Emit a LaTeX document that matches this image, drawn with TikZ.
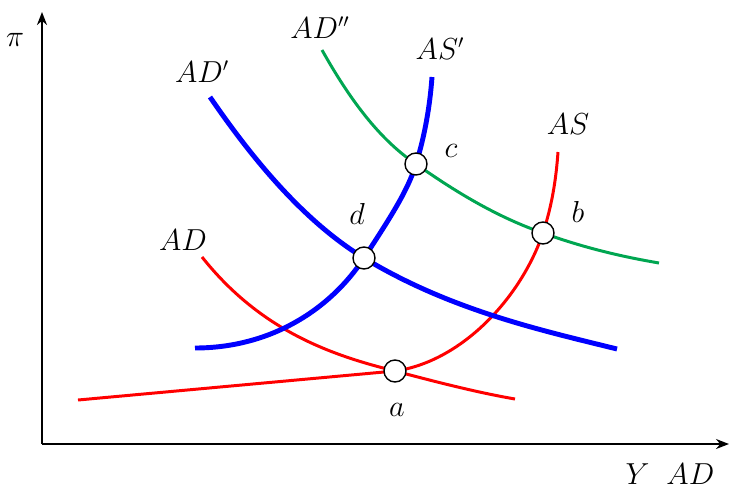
\documentclass[tikz,border=0pt]{standalone}
\usepackage{tikz}
\usetikzlibrary{arrows.meta}

\definecolor{curvered}{RGB}{255,0,0}
\definecolor{curveblue}{RGB}{0,0,255}
\definecolor{curvegreen}{RGB}{0,166,81}

\begin{document}
\begin{tikzpicture}[x=0.02cm, y=-0.02cm,
    axis/.style={-{Stealth[length=2.6mm, width=2mm]}, line width=1.1pt},
    redline/.style={draw=curvered, line width=1.7pt},
    blueline/.style={draw=curveblue, line width=2.8pt},
    greenline/.style={draw=curvegreen, line width=1.7pt},
    pt/.style={circle, draw, fill=white, line width=0.8pt,
        minimum size=0.44cm, inner sep=0pt},
    lbl/.style={font=\fontsize{16}{18}\selectfont, inner sep=1pt}
]
    \useasboundingbox (0,0) rectangle (731,491);

    % axes
    \coordinate (o) at (42,444);
    \coordinate (ytop) at (42,12);
    \coordinate (xend) at (729,444);
    \draw[axis] (o) -- (ytop);
    \draw[axis] (o) -- (xend);
    \node[lbl] (pi) at (15,40) {$\pi$};
    \node[lbl] (ylab) at (670,474) {$Y\ \ AD$};

    % equilibrium points
    \coordinate (a) at (395,371);
    \coordinate (b) at (543,233);
    \coordinate (c) at (416,164);
    \coordinate (d) at (364,258);

    % curve ends
    \coordinate (asstart) at (78,400);
    \coordinate (asend) at (558,152);
    \coordinate (adstart) at (202,257);
    \coordinate (adend) at (515,399);
    \coordinate (ad1start) at (210,97);
    \coordinate (ad1end) at (617,349);
    \coordinate (as1start) at (195,348);
    \coordinate (as1end) at (432,77);
    \coordinate (ad2start) at (322,50);
    \coordinate (ad2end) at (659,263);

    % AS and AD
    \draw[redline] (asstart) -- (a)
        .. controls (460,362) and (520,300) .. (b)
        .. controls (552,205) and (556,180) .. (asend);
    \draw[redline] (adstart) .. controls (260,330) and (330,355) .. (a)
        .. controls (440,383) and (480,393) .. (adend);

    % AD' and AS'
    \draw[blueline] (ad1start) .. controls (260,170) and (310,225) .. (d)
        .. controls (450,310) and (540,330) .. (ad1end);
    \draw[blueline] (as1start) .. controls (270,348) and (330,310) .. (d)
        .. controls (392,215) and (408,190) .. (c)
        .. controls (425,135) and (430,105) .. (as1end);

    % AD''
    \draw[greenline] (ad2start) .. controls (350,100) and (380,140) .. (c)
        .. controls (460,195) and (500,218) .. (b)
        .. controls (590,250) and (630,258) .. (ad2end);

    \node[pt] (pa) at (a) {};
    \node[pt] (pb) at (b) {};
    \node[pt] (pc) at (c) {};
    \node[pt] (pd) at (d) {};

    % labels
    \node[lbl] (la) at (397,410) {$a$};
    \node[lbl] (lb) at (578,212) {$b$};
    \node[lbl] (lc) at (451,151) {$c$};
    \node[lbl] (ld) at (357,214) {$d$};
    \node[lbl] (tad) at (183,240) {$AD$};
    \node[lbl] (tad1) at (202,72) {$AD'$};
    \node[lbl] (tad2) at (320,28) {$AD''$};
    \node[lbl] (tas1) at (440,49) {$AS'$};
    \node[lbl] (tas) at (568,124) {$AS$};
\end{tikzpicture}
\end{document}
